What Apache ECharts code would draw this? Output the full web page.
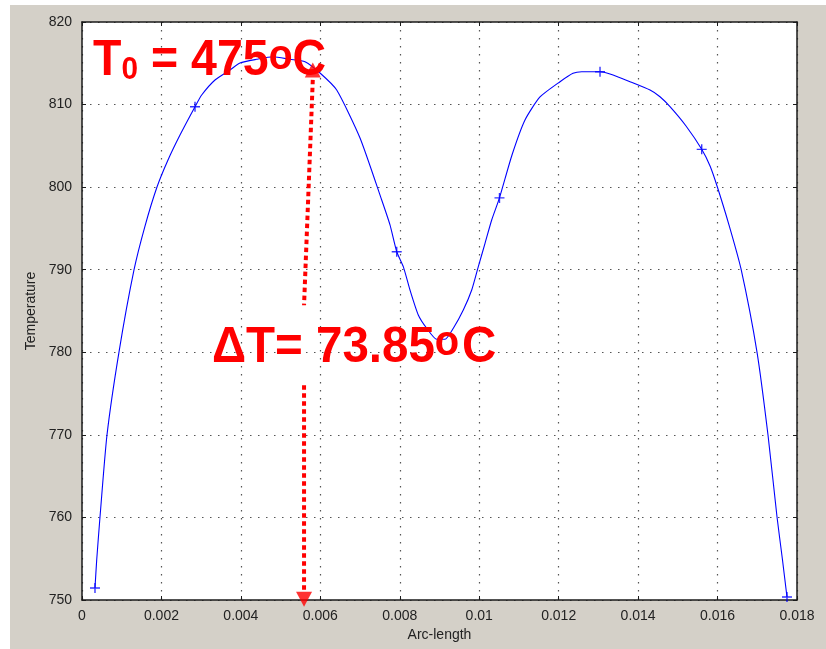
<!DOCTYPE html>
<html>
<head>
<meta charset="utf-8">
<script src="https://cdn.jsdelivr.net/npm/echarts@6/dist/echarts.min.js"></script>
<style>
  html, body { margin: 0; padding: 0; background: #ffffff; }
  #panel { position: absolute; left: 10px; top: 5px; width: 816px; height: 644px; background: #d4d0c8; }
  #chart { position: absolute; left: 0; top: 0; width: 826px; height: 649px; }
</style>
</head>
<body>
<div id="panel"></div>
<div id="chart"></div>
<script>
// Temperature profile along the arc
const arcLength = [0.000327,0.000370,0.000453,0.000629,0.000931,0.001309,0.001586,0.001888,0.002165,0.002467,
  0.002845,0.003013,0.003348,0.003726,0.003978,0.004398,0.004808,0.005236,0.005614,0.005992,
  0.006412,0.006999,0.007545,0.007754,0.007923,0.008089,0.008257,0.008466,0.008678,0.008930,
  0.009139,0.009348,0.009599,0.009811,0.009977,0.010146,0.010314,0.010510,0.010825,0.011152,
  0.011530,0.012034,0.012361,0.012580,0.013041,0.013292,0.013796,0.014300,0.014551,0.014803,
  0.015206,0.015601,0.015811,0.015987,0.016289,0.016591,0.016993,0.017270,0.017497,0.017635,
  0.017748];
const temperature = [751.45,754.84,760.05,769.98,780.03,789.97,795.29,800.02,803.29,806.31,
  809.74,811.16,812.98,814.19,815.03,815.48,815.80,815.48,815.19,813.82,
  811.76,805.95,798.44,795.42,792.18,790.37,787.54,784.52,782.91,781.57,
  781.57,782.91,785.12,787.54,790.37,793.20,796.02,798.70,803.89,808.13,
  810.92,812.77,813.79,813.98,813.98,813.70,812.77,811.76,810.95,809.74,
  807.40,804.58,802.56,800.14,795.41,790.09,780.03,769.98,760.05,754.84,
  750.36];

// Mesh nodes marked with '+'
const nodeArc  = [0.000327, 0.002845, 0.007923, 0.010510, 0.013041, 0.015601, 0.017748];
const nodeTemp = [751.45, 809.74, 792.18, 798.70, 813.98, 804.58, 750.36];

// Axis ranges and ticks
const xRange = [0, 0.018], xStep = 0.002;
const yRange = [750, 820], yStep = 10;

// Dotted arrow marking the hot spot (arc, temperature)
const arrowUpper = [[0.00581, 813.0], [0.00559, 785.7]];
const arrowLower = [[0.00559, 776.0], [0.00559, 751.2]];
const arrowTipUp = [0.00581, 814.2];
const arrowTipDown = [0.00559, 750.1];

// Annotation anchors (top-left of each text block, data coordinates)
const t0Anchor = [0.00028, 818.24];
const dtAnchor = [0.00327, 783.58];

const RED = '#ff0000';
const BLUE = '#0000ff';
const AXIS = '#1a1a1a';
const FONT = 'Liberation Sans';

const curve = arcLength.map((a, i) => [a, temperature[i]]);
const nodes = nodeArc.map((a, i) => [a, nodeTemp[i]]);
const plusSymbol = 'path://M0,4.3H10V5.7H0Z M4.3,0H5.7V10H4.3Z';

const fmtX = v => (v === 0 ? '0' : String(Number(v.toFixed(3))));

const dotted = { color: '#555', width: 1.2, type: [1.5, 6.5] };

const option = {
  animation: false,
  grid: { left: 82, right: 29, top: 22, bottom: 49, show: true, backgroundColor: '#ffffff', borderWidth: 0 },
  xAxis: [{
    type: 'value', min: xRange[0], max: xRange[1], interval: xStep, position: 'bottom',
    name: 'Arc-length', nameLocation: 'middle', nameGap: 26,
    nameTextStyle: { fontFamily: FONT, fontSize: 14, color: '#222' },
    axisLine: { show: true, onZero: false, lineStyle: { color: AXIS, width: 1.5 } },
    axisTick: { show: true, inside: true, length: 4, lineStyle: { color: AXIS } },
    axisLabel: { margin: 9, fontFamily: FONT, fontSize: 14, color: '#222', formatter: fmtX },
    splitLine: { show: true, lineStyle: dotted }
  }, {
    type: 'value', min: xRange[0], max: xRange[1], interval: xStep, position: 'top',
    axisLine: { show: true, onZero: false, lineStyle: { color: AXIS, width: 1.5 } },
    axisTick: { show: true, inside: true, length: 4, lineStyle: { color: AXIS } },
    axisLabel: { show: false }, splitLine: { show: false }
  }],
  yAxis: [{
    type: 'value', min: yRange[0], max: yRange[1], interval: yStep, position: 'left',
    name: 'Temperature', nameLocation: 'middle', nameGap: 38,
    nameTextStyle: { fontFamily: FONT, fontSize: 14, color: '#222' },
    axisLine: { show: true, onZero: false, lineStyle: { color: AXIS, width: 1.5 } },
    axisTick: { show: true, inside: true, length: 4, lineStyle: { color: AXIS } },
    axisLabel: { margin: 10, fontFamily: FONT, fontSize: 14, color: '#222' },
    splitLine: { show: true, lineStyle: dotted }
  }, {
    type: 'value', min: yRange[0], max: yRange[1], interval: yStep, position: 'right',
    axisLine: { show: true, onZero: false, lineStyle: { color: AXIS, width: 1.5 } },
    axisTick: { show: true, inside: true, length: 4, lineStyle: { color: AXIS } },
    axisLabel: { show: false }, splitLine: { show: false }
  }],
  series: [{
    name: 'Temperature', type: 'line', data: curve, smooth: 0.2,
    showSymbol: false, lineStyle: { color: BLUE, width: 1.1 }, z: 3
  }, {
    name: 'Nodes', type: 'scatter', data: nodes, symbol: plusSymbol, symbolSize: 10,
    itemStyle: { color: BLUE }, z: 4, clip: false
  }, {
    name: 'ArrowUpper', type: 'line', data: arrowUpper, showSymbol: false,
    lineStyle: { color: RED, width: 4, type: [4.5, 3.5] }, z: 5
  }, {
    name: 'ArrowLower', type: 'line', data: arrowLower, showSymbol: false,
    lineStyle: { color: RED, width: 4, type: [4.5, 3.5] }, z: 5
  }, {
    name: 'ArrowTips', type: 'scatter', clip: false, z: 6,
    data: [
      { value: arrowTipUp, symbolRotate: 0 },
      { value: arrowTipDown, symbolRotate: 180 }
    ],
    symbol: 'triangle', symbolSize: [16, 15], itemStyle: { color: RED }
  }]
};

const chart = echarts.init(document.getElementById('chart'), null, { renderer: 'canvas' });
chart.setOption(option);

const richStyle = {
  m: { fontFamily: FONT, fontWeight: 'bold', fontSize: 50, lineHeight: 50, fill: RED },
  s: { fontFamily: FONT, fontWeight: 'bold', fontSize: 32, lineHeight: 20, verticalAlign: 'bottom', fill: RED },
  o: { fontFamily: FONT, fontWeight: 'bold', fontSize: 42, lineHeight: 29, verticalAlign: 'top', fill: RED },
  c: { fontFamily: FONT, fontWeight: 'bold', fontSize: 50, lineHeight: 50, fill: RED, padding: [0, 0, 0, 3] }
};

const p1 = chart.convertToPixel({ xAxisIndex: 0, yAxisIndex: 0 }, t0Anchor);
const p2 = chart.convertToPixel({ xAxisIndex: 0, yAxisIndex: 0 }, dtAnchor);

chart.setOption({
  graphic: [{
    type: 'text', id: 't0', x: p1[0], y: p1[1], scaleX: 0.93, z: 10,
    style: { text: '{m|T}{s|0}{m| = 475}{o|o}{m|C}', rich: richStyle, fill: RED, align: 'left', verticalAlign: 'top' }
  }, {
    type: 'text', id: 'dt', x: p2[0], y: p2[1], scaleX: 0.95, z: 10,
    style: { text: '{m|\u0394T= 73.85}{o|o}{c|C}', rich: richStyle, fill: RED, align: 'left', verticalAlign: 'top' }
  }]
});
</script>
</body>
</html>
